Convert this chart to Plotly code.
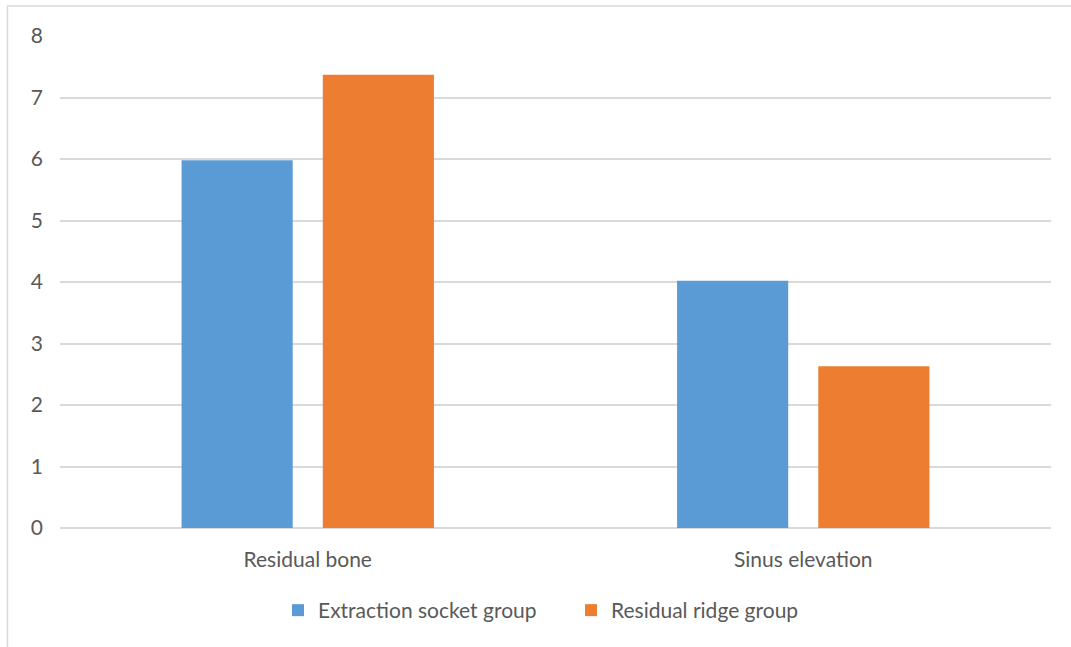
import plotly.graph_objects as go

# Data
categories = ["Residual bone", "Sinus elevation"]
extraction_socket = [5.98, 4.02]
residual_ridge = [7.37, 2.63]
series_names = ["Extraction socket group", "Residual ridge group"]

W, H = 1071, 647
L, R, T, B = 60, 20, 36, 119
plot_w = W - L - R
plot_h = H - T - B

FONT = "Lato"
FS = 21
TEXT = "#595959"
GRID = "#d9d9d9"


def px_x(px):
    return (px - L) / plot_w


def px_y(py):
    return (H - B - py) / plot_h


fig = go.Figure()
fig.add_trace(go.Bar(name=series_names[0], x=categories, y=extraction_socket,
                     marker=dict(color="#5B9BD5", line=dict(width=0))))
fig.add_trace(go.Bar(name=series_names[1], x=categories, y=residual_ridge,
                     marker=dict(color="#ED7D31", line=dict(width=0))))

# Chart-area border (top and left edges visible)
fig.add_shape(type="line", xref="paper", yref="paper",
              x0=px_x(7), x1=px_x(W + 5), y0=px_y(6), y1=px_y(6),
              line=dict(color=GRID, width=1.5))
fig.add_shape(type="line", xref="paper", yref="paper",
              x0=px_x(7.5), x1=px_x(7.5), y0=px_y(6), y1=px_y(H + 5),
              line=dict(color=GRID, width=1.5))

fig.update_layout(
    width=W, height=H,
    margin=dict(l=L, r=R, t=T, b=B),
    paper_bgcolor="white", plot_bgcolor="white",
    barmode="group", bargap=0.43, bargroupgap=0.213,
    font=dict(family=FONT, color=TEXT, size=FS),
    showlegend=True,
    legend=dict(orientation="h", x=px_x(278), xanchor="left",
                y=px_y(590), yanchor="top",
                font=dict(family=FONT, color=TEXT, size=FS),
                entrywidth=248, bgcolor="rgba(0,0,0,0)"),
)
fig.update_xaxes(showline=False, showgrid=False, ticks="",
                 ticklabelstandoff=17, tickfont=dict(size=FS, color=TEXT))
fig.update_yaxes(range=[0, 8], dtick=1, showgrid=True, gridcolor=GRID,
                 gridwidth=1.5, zeroline=True, zerolinecolor=GRID,
                 zerolinewidth=1.5, showline=False, ticks="",
                 ticklabelstandoff=16, tickfont=dict(size=FS, color=TEXT))

fig.write_html("out.html")
